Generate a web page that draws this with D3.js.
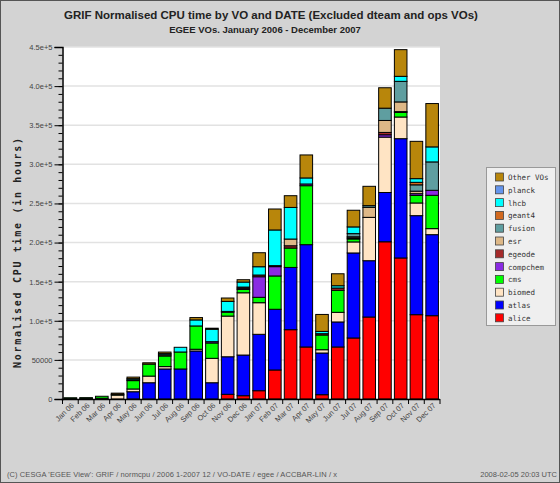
<!DOCTYPE html>
<html><head><meta charset="utf-8">
<script src="https://cdn.jsdelivr.net/npm/d3@7"></script>
<style>body{margin:0;background:#d3d3d3}svg{display:block}</style>
</head><body><svg id="c" width="560" height="483"></svg>
<script>
const months = ["Jan 06","Feb 06","Mar 06","Apr 06","May 06","Jun 06","Jul 06","Aug 06","Sep 06","Oct 06","Nov 06","Dec 06",
                "Jan 07","Feb 07","Mar 07","Apr 07","May 07","Jun 07","Jul 07","Aug 07","Sep 07","Oct 07","Nov 07","Dec 07"];
const vos = ["alice","atlas","biomed","cms","compchem","egeode","esr","fusion","geant4","lhcb","planck","Other VOs"];
const alice    = [0,0,0,0,0,0,0,0,0,0,6000,4200,10600,37100,88600,66500,5500,66500,78000,104800,201000,180300,107800,106500];
const atlas    = [1000,1000,0,0,9300,20800,38400,38400,61400,20800,48000,52000,72100,77600,79600,130800,53300,32000,108700,72000,63000,152500,126600,103600];
const biomed   = [0,0,1000,5000,3500,8500,3000,0,2200,31200,52000,79600,40400,0,0,0,4200,12300,14100,55400,70800,27700,16200,7700];
const cms      = [500,700,2500,1000,10700,15300,13600,21700,29800,19600,5000,4300,6900,42600,24800,75400,18800,28100,3800,0,0,5900,9700,42600];
const compchem = [0,0,0,0,0,0,0,0,0,1700,1000,1500,26300,11900,0,2200,0,0,1300,0,3000,0,2200,6400];
const egeode   = [0,0,0,0,1000,0,0,0,0,0,0,1500,2200,1300,2900,0,1700,3000,0,0,3000,1000,0,0];
const esr      = [0,0,0,0,0,0,1500,0,0,0,0,0,0,0,8600,0,0,0,1500,12800,15300,12400,3200,0];
const fusion   = [0,0,0,0,0,0,0,0,0,0,0,0,0,0,0,0,0,0,4000,2200,15700,26300,8100,36300];
const geant4   = [0,0,0,0,0,0,0,0,0,0,0,0,0,0,0,0,0,0,0,0,0,0,3200,0];
const lhcb     = [0,0,0,0,1500,0,1500,6000,7700,15900,12800,6400,10600,45600,40400,7700,2900,2900,8600,0,0,6400,4700,19200];
const planck   = [0,0,0,0,0,0,0,0,0,0,0,0,0,0,0,0,0,0,0,0,0,0,0,0];
const otherVOs = [0,0,0,1500,2000,1700,2000,0,3000,1300,4300,3000,17900,26800,15000,29400,21700,15300,21300,24700,26100,34100,47700,55400];
const seriesValues = [alice,atlas,biomed,cms,compchem,egeode,esr,fusion,geant4,lhcb,planck,otherVOs];
const colors = ["#ff0000","#0000ff","#ffe4c4","#00ff00","#8a2be2","#a52a2a","#deb887","#5f9ea0","#d2691e","#00ffff","#6495ed","#b8860b"];
const yTickValues = [0,50000,100000,150000,200000,250000,300000,350000,400000,450000];
const yTickLabels = ["0","50000","1.0e+5","1.5e+5","2.0e+5","2.5e+5","3.0e+5","3.5e+5","4.0e+5","4.5e+5"];

const svg = d3.select("#c");
svg.append("rect").attr("x",0.5).attr("y",0.5).attr("width",559).attr("height",482)
   .attr("fill","#d3d3d3").attr("stroke","#555");

const L=62.5, R=440, T=47, B=399;
svg.append("rect").attr("x",L).attr("y",T).attr("width",R-L).attr("height",B-T).attr("fill","#fff");

const x = d3.scaleBand().domain(months).range([L,R]).paddingInner(0.2).paddingOuter(0.1);
const y = d3.scaleLinear().domain([0,450000]).range([B,T]);

// grid
svg.append("g").selectAll("line").data(yTickValues.slice(1)).join("line")
  .attr("x1",L).attr("x2",R).attr("y1",d=>y(d)).attr("y2",d=>y(d))
  .attr("stroke","#e2e2e2").attr("stroke-width",1.5);

// stacked data
const table = months.map((m,i)=>{const o={month:m}; vos.forEach((v,j)=>o[v]=seriesValues[j][i]); return o;});
const stack = d3.stack().keys(vos)(table);
stack.forEach((layer,j)=>{
  svg.append("g").selectAll("rect").data(layer.filter(d=>d[1]-d[0]>0)).join("rect")
    .attr("x",d=>x(d.data.month)).attr("width",x.bandwidth())
    .attr("y",d=>y(d[1])).attr("height",d=>y(d[0])-y(d[1]))
    .attr("fill",colors[j]).attr("stroke","#000").attr("stroke-width",1);
});

// y axis
const yMinor = d3.range(0,450001,10000);
const gyMinor = svg.append("g").attr("transform",`translate(${L},0)`)
  .call(d3.axisLeft(y).tickValues(yMinor).tickSize(4).tickFormat(""));
gyMinor.select(".domain").remove();
gyMinor.selectAll("line").attr("stroke","#000");
const gy = svg.append("g").attr("transform",`translate(${L},0)`)
  .call(d3.axisLeft(y).tickValues(yTickValues).tickSize(8).tickFormat((d,i)=>yTickLabels[i]).tickPadding(2));
gy.select(".domain").attr("stroke","#000").attr("stroke-width",1.5);
gy.selectAll("line").attr("stroke","#000");
gy.selectAll("text").attr("font-family","Liberation Sans, Arial, sans-serif").attr("font-size",7.5).attr("fill","#444");

// x axis
svg.append("line").attr("x1",L-1).attr("x2",R).attr("y1",B+0.5).attr("y2",B+0.5).attr("stroke","#000").attr("stroke-width",1.5);
const bounds = months.map(m=>x(m)-x.step()*x.paddingInner()/2).concat([R]);
svg.append("g").selectAll("line").data(bounds).join("line")
  .attr("x1",d=>d).attr("x2",d=>d).attr("y1",B).attr("y2",B+5).attr("stroke","#000");
const gx = svg.append("g").attr("transform",`translate(0,${B})`)
  .call(d3.axisBottom(x).tickSize(0).tickPadding(0));
gx.select(".domain").remove();
gx.selectAll("text").attr("font-family","Liberation Sans, Arial, sans-serif").attr("font-size",7.5).attr("fill","#444")
  .attr("text-anchor","end").attr("dy",0)
  .attr("transform","translate(4,7) rotate(-45)");

// titles
svg.append("text").attr("x",271).attr("y",19).attr("text-anchor","middle")
  .attr("font-family","Liberation Sans, Arial, sans-serif").attr("font-weight","bold").attr("font-size",11.5).attr("fill","#222")
  .text("GRIF Normalised CPU time by VO and DATE (Excluded dteam and ops VOs)");
svg.append("text").attr("x",265).attr("y",33).attr("text-anchor","middle")
  .attr("font-family","Liberation Sans, Arial, sans-serif").attr("font-weight","bold").attr("font-size",9.5).attr("fill","#222")
  .text("EGEE VOs. January 2006 - December 2007");
svg.append("text").attr("transform","translate(21,253) rotate(-90)").attr("text-anchor","middle")
  .attr("font-family","DejaVu Sans Mono, monospace").attr("font-weight","bold").attr("font-size",10).attr("fill","#222")
  .attr("textLength",230).attr("lengthAdjust","spacing")
  .text("Normalised CPU time (in hours)");

// legend
const lg = svg.append("g");
lg.append("rect").attr("x",486.5).attr("y",167.5).attr("width",69).attr("height",158).attr("fill","#efefef").attr("stroke","#999");
const legendOrder = vos.map((v,j)=>({v,c:colors[j]})).reverse();
legendOrder.forEach((d,i)=>{
  const yy = 177 + i*12.8;
  lg.append("rect").attr("x",495.5).attr("y",yy-4).attr("width",8).attr("height",8).attr("fill",d.c).attr("stroke","#444").attr("stroke-width",0.8);
  lg.append("text").attr("x",508).attr("y",yy+3).attr("font-family","DejaVu Sans Mono, monospace").attr("font-size",7.5).attr("fill","#333").text(d.v);
});

// footer
svg.append("text").attr("x",7).attr("y",477).attr("font-family","Liberation Sans, Arial, sans-serif").attr("font-size",7.5).attr("fill","#555")
  .attr("textLength",330).attr("lengthAdjust","spacing")
  .text("(C) CESGA 'EGEE View': GRIF / normcpu / 2006 1-2007 12 / VO-DATE / egee / ACCBAR-LIN / x");
svg.append("text").attr("x",557).attr("y",477).attr("text-anchor","end").attr("font-family","Liberation Sans, Arial, sans-serif").attr("font-size",7.5).attr("fill","#555")
  .text("2008-02-05 20:03 UTC");
</script></body></html>
